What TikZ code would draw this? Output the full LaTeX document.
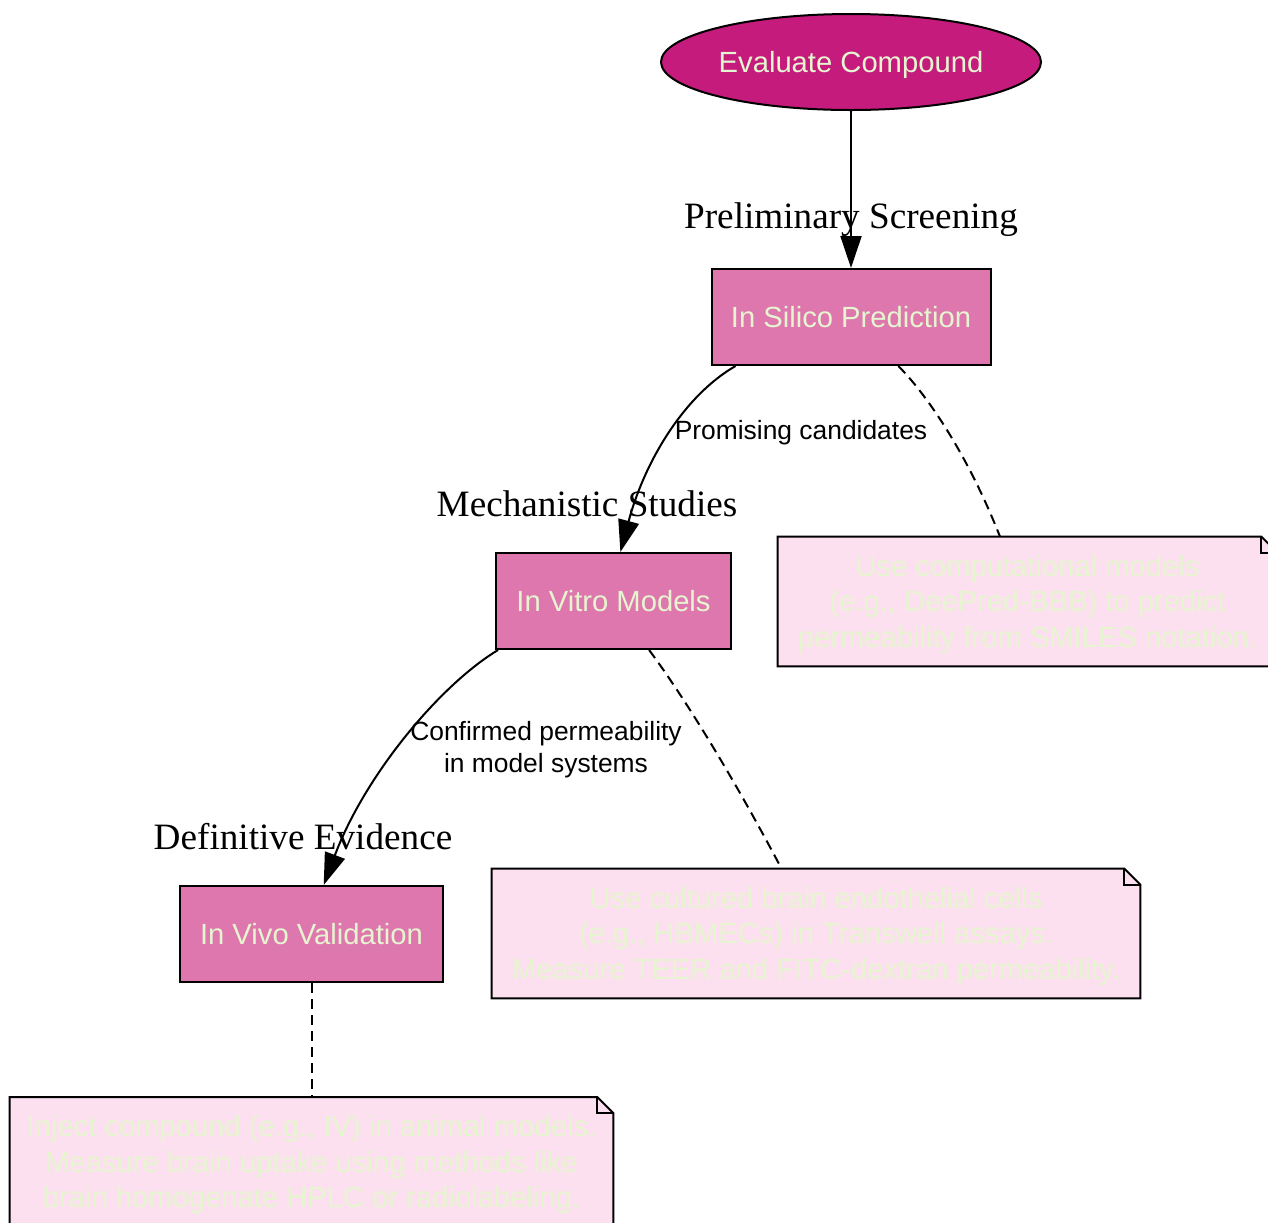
\documentclass[tikz,border=0pt]{standalone}
\usepackage{fontspec}
\setmainfont{Liberation Sans}
\newfontfamily\serifx{Liberation Serif}
\usetikzlibrary{shapes.geometric,arrows.meta,backgrounds}
\definecolor{ellfill}{HTML}{C51B7D}
\definecolor{boxfill}{HTML}{DE77AE}
\definecolor{notefill}{HTML}{FDE0EF}
\definecolor{txtc}{HTML}{E6F5D0}
\def\drawnote#1{%
  \filldraw[fill=notefill, line width=1pt, line join=miter] (#1.south west) -- (#1.north west) -- ([xshift=-8pt]#1.north east) -- ([yshift=-8pt]#1.north east) -- (#1.south east) -- cycle;
  \draw[line width=1pt] ([xshift=-8pt]#1.north east) -- ([xshift=-8pt,yshift=-8pt]#1.north east) -- ([yshift=-8pt]#1.north east);}
\def\ntext#1{\raisebox{-1.5pt}[\height][\depth]{\begin{tabular}{@{}c@{}}#1\end{tabular}}}
\begin{document}
\begin{tikzpicture}[x=0.5pt,y=-0.5pt,
  nodefont/.style={font=\fontsize{14.6}{17.75}\selectfont},
  startell/.style={ellipse, draw=black, line width=1pt, fill=ellfill, text=txtc, nodefont, minimum width=190pt, minimum height=48pt, inner sep=0pt},
  procbox/.style={rectangle, draw=black, line width=1pt, fill=boxfill, text=txtc, nodefont, minimum height=48pt, inner sep=0pt},
  notebox/.style={rectangle, text=txtc, nodefont, minimum height=64.5pt, inner sep=0pt},
  edgelab/.style={font=\fontsize{13.2}{16}\selectfont, align=center, text=black},
  stagelab/.style={font=\serifx\fontsize{18.6}{22}\selectfont, text=black},
  arr/.style={line width=1pt, -{Triangle[length=16pt,width=10.5pt]}},
  dsh/.style={line width=1pt, dash pattern=on 5pt off 3pt}]
\useasboundingbox (0,0) rectangle (1268,1222);

\node[startell] (eval) at (851,62) {\raisebox{-1.5pt}[\height][\depth]{Evaluate Compound}};
\node[procbox, minimum width=139.5pt] (sil) at (851,317) {In Silico Prediction};
\node[procbox, minimum width=117.5pt] (vit) at (613.5,601) {In Vitro Models};
\node[procbox, minimum width=131.5pt] (viv) at (311.5,934) {In Vivo Validation};

\node[notebox, minimum width=249.5pt] (n1) at (1027.5,601.5) {\ntext{Use computational models\\(e.g., DeePred-BBB) to predict\\permeability from SMILES notation.}};
\node[notebox, minimum width=324pt] (n2) at (816,933.5) {\ntext{Use cultured brain endothelial cells\\(e.g., HBMECs) in Transwell assays.\\Measure TEER and FITC-dextran permeability.}};
\node[notebox, minimum width=301.5pt] (n3) at (311.5,1162) {\ntext{Inject compound (e.g., IV) in animal models.\\Measure brain uptake using methods like\\brain homogenate HPLC or radiolabeling.}};

\begin{scope}[on background layer]
\drawnote{n1}
\drawnote{n2}
\drawnote{n3}
\end{scope}

\node[stagelab] (lab1) at (851,220) {Preliminary Screening};
\node[stagelab] (lab2) at (587,504) {Mechanistic Studies};
\node[stagelab] (lab3) at (303,837) {Definitive Evidence};

\draw[arr] (eval.south) -- (sil.north);
\draw[arr] (sil.-157.4) .. controls (685,395) and (645,460) .. (vit.82.6);
\node[edgelab] (el1) at (801,433) {Promising candidates};
\draw[dsh] (sil.-46.5) .. controls (930,398) and (970,460) .. (n1.113.1);
\draw[arr] (vit.-157) .. controls (440,685) and (365,775) .. (viv.76);
\node[edgelab] (el2) at (546,750) {Confirmed permeability\\in model systems};
\draw[dsh] (vit.-54.8) .. controls (690,705) and (740,790) .. (n2.118.5);
\draw[dsh] (viv.south) -- (n3.north);
\end{tikzpicture}
\end{document}
